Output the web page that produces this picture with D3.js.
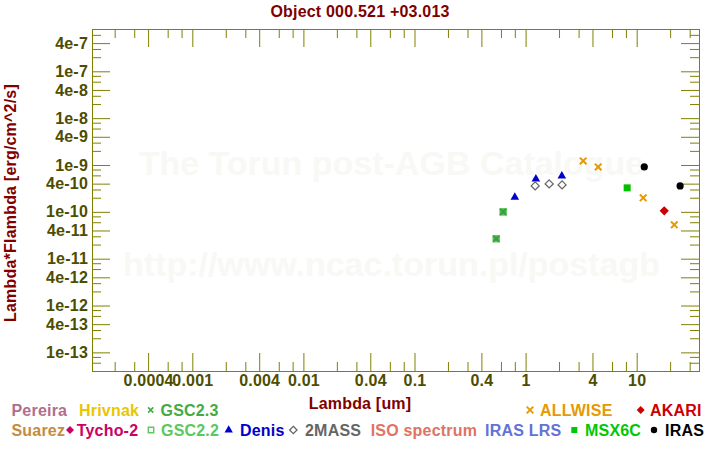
<!DOCTYPE html>
<html><head><meta charset="utf-8">
<script src="https://cdn.jsdelivr.net/npm/d3@7"></script>
<style>
body{margin:0;background:#fff}
svg text{font-family:"Liberation Sans",Arial,Helvetica,sans-serif;font-weight:bold;}
</style>
</head><body><svg id="c" width="720" height="450"></svg>
<script>
// ---------- data ----------
const chartTitle = "Object 000.521 +03.013";
const xAxisTitle = "Lambda [um]";
const yAxisTitle = "Lambda*Flambda [erg/cm^2/s]";
const watermark1 = "The Torun post-AGB Catalogue";
const watermark2 = "http://www.ncac.torun.pl/postagb";

const xTickValues = [0.0004, 0.001, 0.004, 0.01, 0.04, 0.1, 0.4, 1, 4, 10];
const xTickLabels = ["0.0004", "0.001", "0.004", "0.01", "0.04", "0.1", "0.4", "1", "4", "10"];
const yTickValues = [1e-13, 4e-13, 1e-12, 4e-12, 1e-11, 4e-11, 1e-10, 4e-10, 1e-9, 4e-9, 1e-8, 4e-8, 1e-7, 4e-7];
const yTickLabels = ["1e-13", "4e-13", "1e-12", "4e-12", "1e-11", "4e-11", "1e-10", "4e-10", "1e-9", "4e-9", "1e-8", "4e-8", "1e-7", "4e-7"];
const minorMultipliers = [2, 3, 6, 8];

const gsc23Wave = [0.544, 0.628];
const gsc23Flux = [2.66e-11, 1.0e-10];
const gsc22Wave = [0.544, 0.628];
const gsc22Flux = [2.66e-11, 1.0e-10];
const denisWave = [0.80, 1.238, 2.12];
const denisFlux = [2.04e-10, 5.02e-10, 5.82e-10];
const twomassWave = [1.22, 1.63, 2.13];
const twomassFlux = [3.58e-10, 3.95e-10, 3.76e-10];
const allwiseWave = [3.30, 4.50, 11.44, 21.8];
const allwiseFlux = [1.22e-9, 9.1e-10, 1.99e-10, 5.28e-11];
const msxWave = [8.21];
const msxFlux = [3.25e-10];
const irasWave = [11.7, 24.6];
const irasFlux = [9.1e-10, 3.58e-10];
const akariWave = [17.7];
const akariFlux = [1.05e-10];

const legendNames = ["Pereira", "Hrivnak", "GSC2.3", "ALLWISE", "AKARI",
  "Suarez", "Tycho-2", "GSC2.2", "Denis", "2MASS", "ISO spectrum", "IRAS LRS", "MSX6C", "IRAS"];

// ---------- layout / style ----------
const L = 92, R = 699, T = 29, B = 371;
const axisColor = "#808000", labelColor = "#4d4d00", titleColor = "#800000";
const FS = 16, LS = "0.2px";

const svg = d3.select("#c");
const x = d3.scaleLog().domain([Math.pow(10, -3.903), Math.pow(10, 1.561)]).range([L, R]);
const y = d3.scaleLog().domain([4e-14, 8e-7]).range([B, T]);

// watermark
const cx = (L + R) / 2 - 4;
svg.append("text").attr("x", cx).attr("y", 175).attr("text-anchor", "middle")
  .attr("font-size", 34).attr("fill", "#f8f8f5").text(watermark1);
svg.append("text").attr("x", cx).attr("y", 276).attr("text-anchor", "middle")
  .attr("font-size", 34).attr("fill", "#f8f8f5").text(watermark2);

function minors(scale) {
  const [a, b] = scale.domain();
  const out = [];
  for (let e = Math.floor(Math.log10(a)); e <= Math.ceil(Math.log10(b)); e++) {
    minorMultipliers.forEach(m => { const v = m * Math.pow(10, e); if (v > a && v < b) out.push(v); });
  }
  return out;
}
const xMinor = minors(x), yMinor = minors(y);
const xLab = new Map(xTickValues.map((v, i) => [v, xTickLabels[i]]));
const yLab = new Map(yTickValues.map((v, i) => [v, yTickLabels[i]]));

function styleAxis(g) {
  g.select(".domain").remove();
  g.selectAll(".tick line").attr("stroke", axisColor);
  g.selectAll(".tick text").attr("fill", labelColor).attr("font-size", FS)
    .style("letter-spacing", LS);
  g.attr("font-family", null).attr("font-size", null);
}

svg.append("g").attr("transform", `translate(0,${B})`)
  .call(d3.axisBottom(x).tickValues(xTickValues).tickFormat(d => xLab.get(d)).tickSizeInner(-18).tickSizeOuter(0).tickPadding(4))
  .call(styleAxis);
svg.append("g").attr("transform", `translate(0,${B})`)
  .call(d3.axisBottom(x).tickValues(xMinor).tickFormat("").tickSizeInner(-9).tickSizeOuter(0)).call(styleAxis);
svg.append("g").attr("transform", `translate(0,${T})`)
  .call(d3.axisTop(x).tickValues(xTickValues).tickFormat("").tickSizeInner(-18).tickSizeOuter(0)).call(styleAxis);
svg.append("g").attr("transform", `translate(0,${T})`)
  .call(d3.axisTop(x).tickValues(xMinor).tickFormat("").tickSizeInner(-9).tickSizeOuter(0)).call(styleAxis);
svg.append("g").attr("transform", `translate(${L},0)`)
  .call(d3.axisLeft(y).tickValues(yTickValues).tickFormat(d => yLab.get(d)).tickSizeInner(-18).tickSizeOuter(0).tickPadding(4))
  .call(styleAxis);
svg.append("g").attr("transform", `translate(${L},0)`)
  .call(d3.axisLeft(y).tickValues(yMinor).tickFormat("").tickSizeInner(-9).tickSizeOuter(0)).call(styleAxis);
svg.append("g").attr("transform", `translate(${R},0)`)
  .call(d3.axisRight(y).tickValues(yTickValues).tickFormat("").tickSizeInner(-18).tickSizeOuter(0)).call(styleAxis);
svg.append("g").attr("transform", `translate(${R},0)`)
  .call(d3.axisRight(y).tickValues(yMinor).tickFormat("").tickSizeInner(-9).tickSizeOuter(0)).call(styleAxis);

svg.append("rect").attr("x", L + 0.5).attr("y", T + 0.5).attr("width", R - L).attr("height", B - T)
  .attr("fill", "none").attr("stroke", axisColor).attr("stroke-width", 1);

svg.append("text").attr("x", 360).attr("y", 17).attr("text-anchor", "middle").attr("font-size", FS)
  .style("letter-spacing", LS).attr("fill", titleColor).text(chartTitle);
svg.append("text").attr("x", 360).attr("y", 409).attr("text-anchor", "middle").attr("font-size", FS)
  .style("letter-spacing", LS).attr("fill", titleColor).text(xAxisTitle);
svg.append("text").attr("transform", "translate(15.5,203) rotate(-90)").attr("text-anchor", "middle").attr("font-size", FS)
  .style("letter-spacing", LS).attr("fill", titleColor).text(yAxisTitle);

const sym = {
  cross: r => `M${-r},${-r}L${r},${r}M${-r},${r}L${r},${-r}`,
  diamond: r => `M0,${-r}L${r},0L0,${r}L${-r},0Z`,
  square: r => `M${-r},${-r}H${r}V${r}H${-r}Z`,
  circle: r => `M${r},0A${r},${r} 0 1,1 ${-r},0A${r},${r} 0 1,1 ${r},0Z`,
  triangle: r => d3.symbol(d3.symbolTriangle, r)()
};
const styles = {
  "GSC2.2": { d: sym.square(3.2), fill: "#4caf50", stroke: "#66cc66", sw: 1.2 },
  "GSC2.3": { d: sym.cross(3), fill: "none", stroke: "#3a9c3a", sw: 1.6 },
  "Denis": { d: sym.triangle(32), fill: "#0000cc", stroke: "none", sw: 0 },
  "2MASS": { d: sym.diamond(4), fill: "#fff", stroke: "#666666", sw: 1.3 },
  "ALLWISE": { d: sym.cross(3.3), fill: "none", stroke: "#e69900", sw: 2 },
  "MSX6C": { d: sym.square(3.5), fill: "#00c000", stroke: "none", sw: 0 },
  "IRAS": { d: sym.circle(3.6), fill: "#000", stroke: "none", sw: 0 },
  "AKARI": { d: sym.diamond(4.6), fill: "#cc0000", stroke: "none", sw: 0 }
};
const seriesList = [
  ["GSC2.2", gsc22Wave, gsc22Flux], ["GSC2.3", gsc23Wave, gsc23Flux],
  ["Denis", denisWave, denisFlux], ["2MASS", twomassWave, twomassFlux],
  ["ALLWISE", allwiseWave, allwiseFlux], ["MSX6C", msxWave, msxFlux],
  ["IRAS", irasWave, irasFlux], ["AKARI", akariWave, akariFlux]
];
seriesList.forEach(([name, wv, fl]) => {
  const st = styles[name];
  svg.append("g").selectAll("path").data(wv.map((w, i) => [w, fl[i]])).join("path")
    .attr("transform", d => `translate(${x(d[0])},${y(d[1])})`)
    .attr("d", st.d).attr("fill", st.fill).attr("stroke", st.stroke).attr("stroke-width", st.sw);
});

const legendLayout = {
  "Pereira": { tx: 11.5, row: 0, color: "#b06e8c" },
  "Hrivnak": { tx: 79, row: 0, color: "#e8c600" },
  "GSC2.3": { tx: 160.5, row: 0, color: "#44aa44", s: sym.cross(2.6), sx: 150.7, f: "none", sw: 1.6 },
  "ALLWISE": { tx: 540, row: 0, color: "#e69900", s: sym.cross(3.3), sx: 530, f: "none", sw: 1.9 },
  "AKARI": { tx: 650, row: 0, color: "#cc0000", s: sym.diamond(4), sx: 640.7, f: "fill" },
  "Suarez": { tx: 11.5, row: 1, color: "#c48c40" },
  "Tycho-2": { tx: 76.7, row: 1, color: "#cc0066", s: sym.diamond(4), sx: 70, f: "fill" },
  "GSC2.2": { tx: 161, row: 1, color: "#5cc85c", s: sym.square(2.7), sx: 151, f: "#fff", sw: 1.4 },
  "Denis": { tx: 240, row: 1, color: "#0000cc", s: sym.triangle(30), sx: 228.7, f: "fill" },
  "2MASS": { tx: 305, row: 1, color: "#666666", s: sym.diamond(3.7), sx: 293.3, f: "#fff", sw: 1.3 },
  "ISO spectrum": { tx: 370.7, row: 1, color: "#e07363" },
  "IRAS LRS": { tx: 485, row: 1, color: "#6272d6" },
  "MSX6C": { tx: 585, row: 1, color: "#00c800", s: sym.square(3), sx: 574.3, f: "fill" },
  "IRAS": { tx: 665, row: 1, color: "#000000", s: sym.circle(3.2), sx: 654, f: "fill" }
};
const rowBase = [415.5, 435.5];
legendNames.forEach(n => {
  const o = legendLayout[n];
  svg.append("text").attr("x", o.tx).attr("y", rowBase[o.row]).attr("font-size", FS)
    .style("letter-spacing", LS).attr("fill", o.color).text(n);
  if (o.s) {
    const p = svg.append("path").attr("transform", `translate(${o.sx},${rowBase[o.row] - 5.5})`).attr("d", o.s);
    if (o.f === "fill") p.attr("fill", o.color);
    else p.attr("fill", o.f).attr("stroke", o.color).attr("stroke-width", o.sw);
  }
});
</script>
</body></html>
